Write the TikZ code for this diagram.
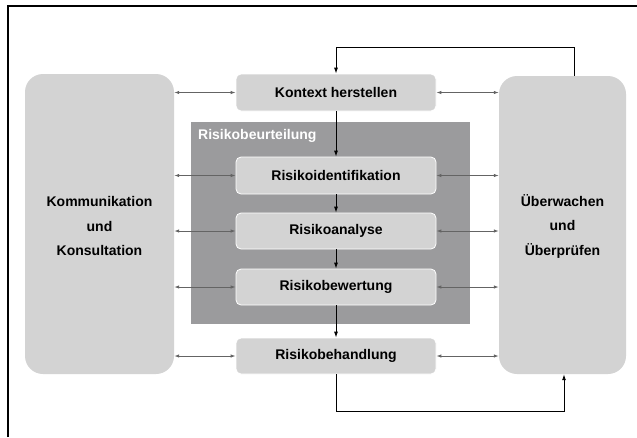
\documentclass[tikz,border=0pt]{standalone}
\usepackage{fontspec}
\setmainfont{Liberation Sans}
\usetikzlibrary{arrows.meta}
\definecolor{boxfill}{RGB}{211,211,211}
\definecolor{groupfill}{RGB}{155,155,157}
\definecolor{linkgray}{RGB}{100,100,100}
\begin{document}
\begin{tikzpicture}[x=1pt,y=-1pt,
  every node/.style={font=\fontsize{14}{24.5}\selectfont\bfseries, align=center, inner sep=0pt},
  sidebox/.style={fill=boxfill, draw=none, rounded corners=18pt},
  stepbox/.style={fill=boxfill, draw=white, line width=0.8pt, rounded corners=5pt,
                  minimum width=200pt},
  dbl/.style={linkgray, line width=0.9pt, {Latex[length=5pt,width=3.5pt]}-{Latex[length=5pt,width=3.5pt]}},
  flow/.style={black, line width=0.9pt, -{Latex[length=6pt,width=4pt]}}]
  \useasboundingbox (0,0) rectangle (637,437);
  % open frame
  \draw[line width=1.2pt] (8,437) -- (8,6) -- (637,6);

  % side panels
  \node[sidebox, minimum width=149pt, minimum height=300pt] (komm) at (99.5,224) {};
  \node[sidebox, minimum width=127pt, minimum height=298pt] (ueber) at (562.5,225) {};
  \node (kommtext) at ([yshift=-2pt]komm.center) {Kommunikation\\und\\Konsultation};
  \node (uebertext) at ([yshift=-1pt]ueber.center) {Überwachen\\und\\Überprüfen};

  % assessment group
  \fill[groupfill] (191,122) rectangle (470,324);
  \node[text=white, anchor=west] (beurt) at (198,136) {Risikobeurteilung};

  % process steps
  \node[stepbox, minimum height=37pt] (kontext) at (336,92.5) {Kontext herstellen};
  \node[stepbox, minimum height=37pt] (ident) at (336,175.5) {Risikoidentifikation};
  \node[stepbox, minimum height=36pt] (analyse) at (336,231) {Risikoanalyse};
  \node[stepbox, minimum height=36pt] (bewert) at (336,287) {Risikobewertung};
  \node[stepbox, minimum height=36pt] (behand) at (336,356) {Risikobehandlung};

  % main flow
  \draw[flow] (kontext) -- (ident);
  \draw[flow] (ident) -- (analyse);
  \draw[flow] (analyse) -- (bewert);
  \draw[flow] (bewert) -- (behand);

  % feedback loops
  \draw[flow] ([xshift=11.5pt]ueber.north) -- ++(0,-28) -| (kontext.north);
  \draw[flow] (behand.south) -- ++(0,37) -| ([xshift=1.5pt]ueber.south);

  % links to the side panels
  \foreach \s in {kontext,ident,analyse,bewert,behand}{
    \draw[dbl] (\s.west -| komm.east) -- (\s.west);
    \draw[dbl] (\s.east) -- (\s.east -| ueber.west);
  }
\end{tikzpicture}
\end{document}
